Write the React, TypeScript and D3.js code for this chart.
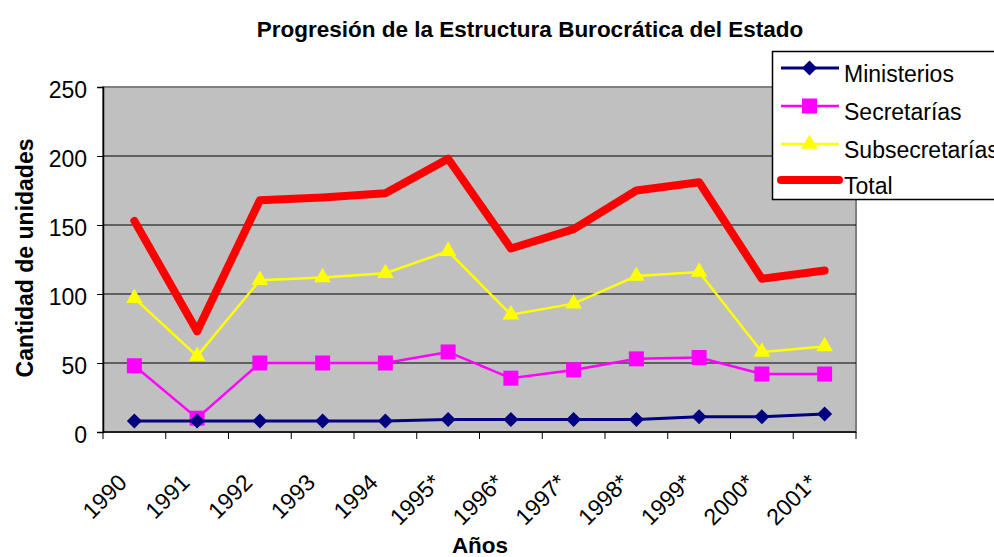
import * as d3 from "d3";
import { useEffect, useRef } from "react";

const years = ["1990", "1991", "1992", "1993", "1994", "1995*", "1996*", "1997*", "1998*", "1999*", "2000*", "2001*"];
const ministerios = [8, 8, 8, 8, 8, 9, 9, 9, 9, 11, 11, 13];
const secretarias = [48, 10, 50, 50, 50, 58, 39, 45, 53, 54, 42, 42];
const subsecretarias = [97, 55, 110, 112, 115, 131, 85, 93, 113, 116, 58, 62];
const total = [153, 73, 168, 170, 173, 198, 133, 147, 175, 181, 111, 117];
const yTicks = [0, 50, 100, 150, 200, 250];

const FONT = "Arial, 'Liberation Sans', sans-serif";

const App = () => {
  const svgRef = useRef(null);

  useEffect(() => {
    const svg = d3.select(svgRef.current);
    svg.selectAll("*").remove();

    const left = 103, right = 856, top = 87, bottom = 432;

    const x = d3.scaleBand().domain(years).range([left, right]);
    const y = d3.scaleLinear().domain([0, 250]).range([bottom, top]);
    const cx = (i) => x(years[i]) + x.bandwidth() / 2;

    // plot background
    svg.append("rect")
      .attr("x", left).attr("y", top)
      .attr("width", right - left).attr("height", bottom - top)
      .attr("fill", "#c0c0c0")
      .attr("stroke", "#808080").attr("stroke-width", 2);

    // gridlines
    svg.append("g").selectAll("line")
      .data(yTicks.filter((t) => t > 0 && t < 250))
      .enter().append("line")
      .attr("x1", left).attr("x2", right)
      .attr("y1", (d) => y(d)).attr("y2", (d) => y(d))
      .attr("stroke", "#000").attr("stroke-width", 1);

    // axes
    const yAxis = svg.append("g")
      .attr("transform", `translate(${left},0)`)
      .call(d3.axisLeft(y).tickValues(yTicks).tickSize(6).tickPadding(10));
    yAxis.select(".domain").attr("stroke", "#000").attr("stroke-width", 1.5);
    yAxis.selectAll("text")
      .attr("font-family", FONT).attr("font-size", 23).attr("fill", "#000")
      .attr("dy", "0.47em");

    const xAxis = svg.append("g").attr("transform", `translate(0,${bottom})`);
    xAxis.append("line")
      .attr("x1", left).attr("x2", right).attr("y1", 0).attr("y2", 0)
      .attr("stroke", "#000").attr("stroke-width", 1.5);
    xAxis.selectAll(".tick")
      .data(d3.range(years.length + 1))
      .enter().append("line")
      .attr("x1", (i) => left + i * x.step()).attr("x2", (i) => left + i * x.step())
      .attr("y1", 0).attr("y2", 7)
      .attr("stroke", "#000");
    xAxis.selectAll("text")
      .data(years)
      .enter().append("text")
      .attr("transform", (d, i) => `translate(${cx(i) - 6},${52}) rotate(-45)`)
      .attr("text-anchor", "end")
      .attr("font-family", FONT).attr("font-size", 23)
      .text((d) => d);

    const lineGen = (vals) =>
      d3.line().x((d, i) => cx(i)).y((d) => y(d))(vals);

    // Total
    svg.append("path")
      .attr("d", lineGen(total))
      .attr("fill", "none").attr("stroke", "#ff0000")
      .attr("stroke-width", 8).attr("stroke-linecap", "round").attr("stroke-linejoin", "round");

    // Subsecretarías
    svg.append("path")
      .attr("d", lineGen(subsecretarias))
      .attr("fill", "none").attr("stroke", "#ffff00").attr("stroke-width", 2.5);
    svg.append("g").selectAll("path")
      .data(subsecretarias).enter().append("path")
      .attr("d", d3.symbol(d3.symbolTriangle, 120)())
      .attr("transform", (d, i) => `translate(${cx(i)},${y(d)})`)
      .attr("fill", "#ffff00");

    // Secretarías
    svg.append("path")
      .attr("d", lineGen(secretarias))
      .attr("fill", "none").attr("stroke", "#ff00ff").attr("stroke-width", 2.5);
    svg.append("g").selectAll("rect")
      .data(secretarias).enter().append("rect")
      .attr("x", (d, i) => cx(i) - 7.5).attr("y", (d) => y(d) - 7.5)
      .attr("width", 15).attr("height", 15)
      .attr("fill", "#ff00ff");

    // Ministerios
    svg.append("path")
      .attr("d", lineGen(ministerios))
      .attr("fill", "none").attr("stroke", "#000080").attr("stroke-width", 3);
    svg.append("g").selectAll("path")
      .data(ministerios).enter().append("path")
      .attr("d", "M0,-7.5L7.5,0L0,7.5L-7.5,0Z")
      .attr("transform", (d, i) => `translate(${cx(i)},${y(d)})`)
      .attr("fill", "#000080");

    // title and axis labels
    svg.append("text")
      .attr("x", 530).attr("y", 37)
      .attr("text-anchor", "middle")
      .attr("font-family", FONT).attr("font-size", 22.5).attr("font-weight", "bold")
      .text("Progresión de la Estructura Burocrática del Estado");

    svg.append("text")
      .attr("transform", `translate(33,258) rotate(-90)`)
      .attr("text-anchor", "middle")
      .attr("font-family", FONT).attr("font-size", 23).attr("font-weight", "bold")
      .text("Cantidad de unidades");

    svg.append("text")
      .attr("x", 480).attr("y", 553)
      .attr("text-anchor", "middle")
      .attr("font-family", FONT).attr("font-size", 22.5).attr("font-weight", "bold")
      .text("Años");

    // legend
    const legend = svg.append("g");
    legend.append("rect")
      .attr("x", 772.5).attr("y", 51.5).attr("width", 240).attr("height", 148)
      .attr("fill", "#fff").attr("stroke", "#000").attr("stroke-width", 1.5);

    const items = [
      { name: "Ministerios", color: "#000080", width: 3, marker: "diamond" },
      { name: "Secretarías", color: "#ff00ff", width: 2.5, marker: "square" },
      { name: "Subsecretarías", color: "#ffff00", width: 2.5, marker: "triangle" },
      { name: "Total", color: "#ff0000", width: 8, marker: "none" },
    ];
    const rowLine = [68, 106, 144, 180];
    items.forEach((it, k) => {
      const ly = rowLine[k];
      legend.append("line")
        .attr("x1", 781).attr("x2", 839).attr("y1", ly).attr("y2", ly)
        .attr("stroke", it.color).attr("stroke-width", it.width)
        .attr("stroke-linecap", it.marker === "none" ? "round" : "butt");
      if (it.marker === "diamond") {
        legend.append("path").attr("d", "M0,-7.5L7.5,0L0,7.5L-7.5,0Z")
          .attr("transform", `translate(809.5,${ly})`).attr("fill", it.color);
      } else if (it.marker === "square") {
        legend.append("rect").attr("x", 802).attr("y", ly - 7.5)
          .attr("width", 15).attr("height", 15).attr("fill", it.color);
      } else if (it.marker === "triangle") {
        legend.append("path").attr("d", d3.symbol(d3.symbolTriangle, 120)())
          .attr("transform", `translate(809.5,${ly})`).attr("fill", it.color);
      }
      legend.append("text")
        .attr("x", 844).attr("y", ly + 13.5)
        .attr("font-family", FONT).attr("font-size", 23)
        .text(it.name);
    });
  }, []);

  return (
    <svg ref={svgRef} width={994} height={557}
      style={{ position: "absolute", left: 0, top: 0, background: "#fff" }} />
  );
};

export default App;
